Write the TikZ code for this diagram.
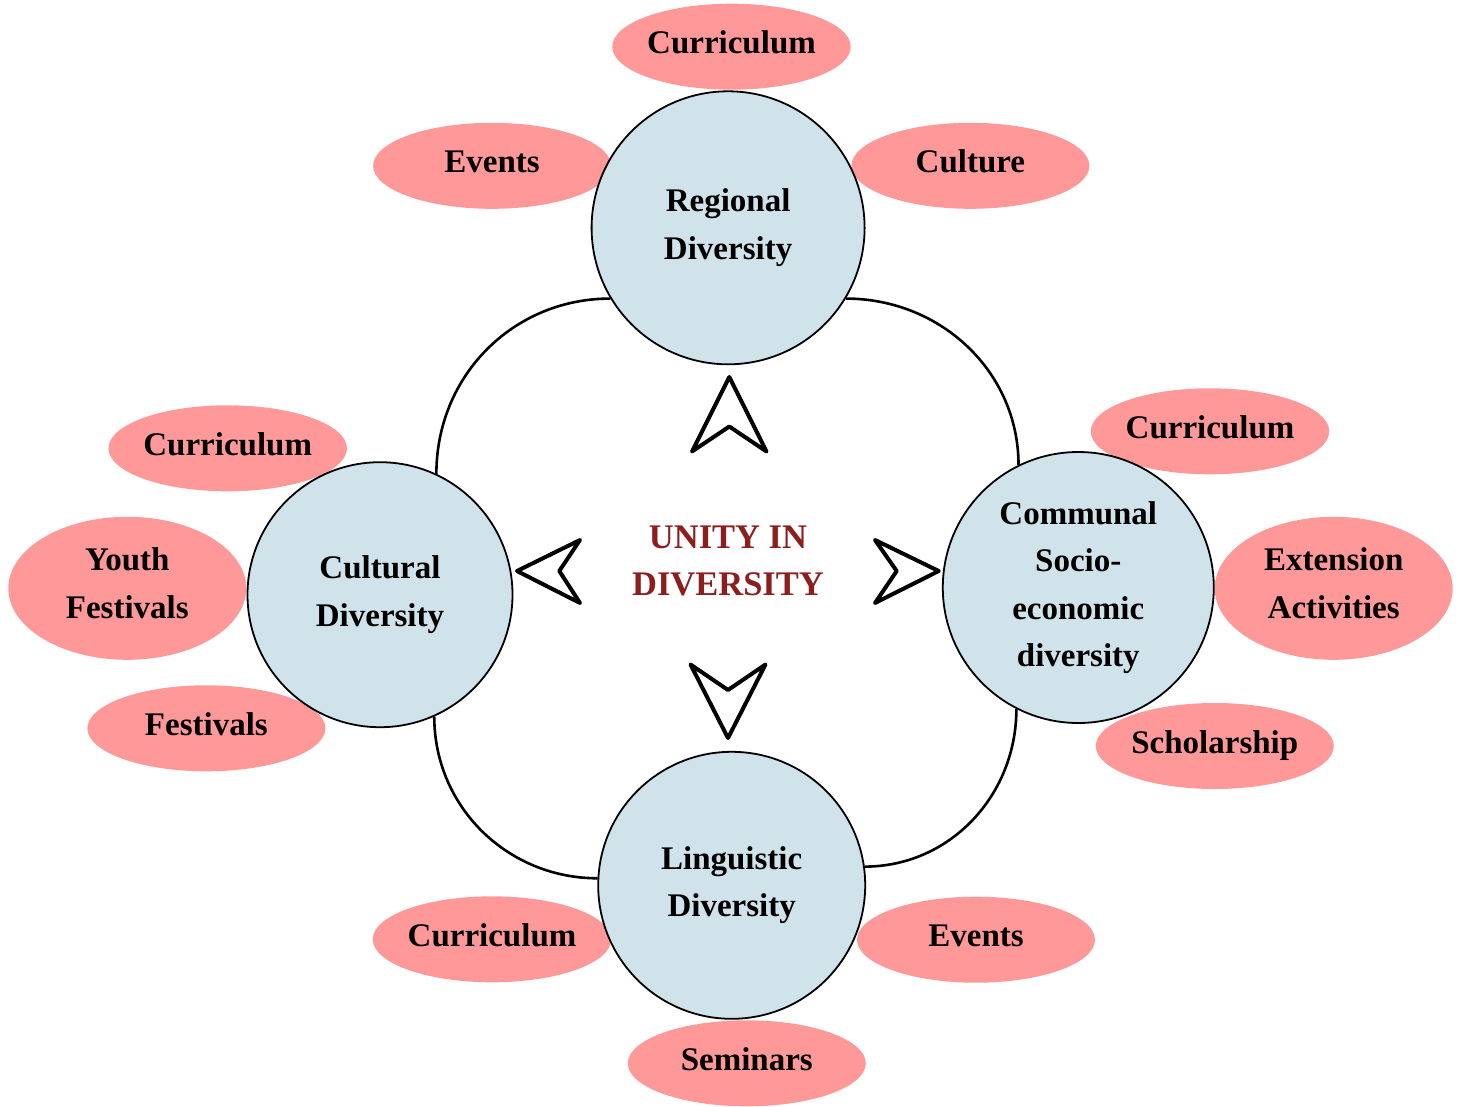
\documentclass[tikz,border=0pt]{standalone}
\usepackage{fontspec}
\setmainfont{Liberation Serif}
\usetikzlibrary{shapes.geometric}
\definecolor{pinkc}{RGB}{255,153,153}
\definecolor{bluec}{RGB}{208,227,234}
\definecolor{redc}{RGB}{140,30,30}
\tikzset{
  leaf/.style={ellipse, fill=pinkc, draw=none, minimum width=238pt, minimum height=86pt, inner sep=0pt, align=center, text height=22pt, text depth=8pt, font=\fontsize{33}{47.5}\selectfont\bfseries},
  leaftall/.style={leaf, minimum height=143pt, text height=62pt, text depth=2pt},
  hub/.style={circle, fill=bluec, draw=black, line width=1.8pt, inner sep=0pt, align=center, font=\fontsize{33}{47.5}\selectfont\bfseries},
  link/.style={draw=black, line width=2.6pt},
  pointer/.style={draw=black, line width=4pt, line join=round, fill=white}
}
\begin{document}
\begin{tikzpicture}[x=1pt,y=-1pt]
\useasboundingbox (0,0) rectangle (1467,1106);
% leaves
\node[leaf] (rc) at (731.5,46.7) {Curriculum};
\node[leaf] (re) at (492.1,165.8) {Events};
\node[leaf] (ru) at (970.4,165.8) {Culture};
\node[leaf] (cc) at (227.7,448.3) {Curriculum};
\node[leaftall] (cy) at (127.3,588.3) {Youth\\Festivals};
\node[leaf] (cf) at (206.4,728.3) {Festivals};
\node[leaf] (mc) at (1210,431.3) {Curriculum};
\node[leaftall] (me) at (1333.7,588.3) {Extension\\Activities};
\node[leaf] (ms) at (1214.8,746) {Scholarship};
\node[leaf] (lc) at (492,939.3) {Curriculum};
\node[leaf] (le) at (976,939.7) {Events};
\node[leaf] (ls) at (746.8,1063.3) {Seminars};
% hubs
\node[hub, minimum size=273pt] (reg) at (728.1,227.8) {Regional\\Diversity};
\node[hub, minimum size=265pt] (cul) at (380,594.7) {Cultural\\Diversity};
\node[hub, minimum size=271pt] (com) at (1078.3,587.5) {Communal\\Socio-\\economic\\diversity};
\node[hub, minimum size=267pt] (lin) at (731.7,885.3) {Linguistic\\Diversity};
% connecting arcs
\draw[link] (reg.211) .. controls +(-97.5,0) and +(0,-97.9) .. (cul.65);
\draw[link] (reg.329.5) .. controls +(94.6,0) and +(0,-93.4) .. (com.116.7);
\draw[link] (cul.294.7) .. controls +(0,90.5) and +(-89.9,0) .. (lin.177.3);
\draw[link] (com.243.1) .. controls +(0,86.7) and +(84.7,0) .. (lin.8.7);
% centre
\node[font=\fontsize{34.5}{47.7}\selectfont\bfseries, text=redc, align=center, inner sep=0pt] (unity) at (728,561) {UNITY IN\\DIVERSITY};
% pointers
\draw[pointer] (729.3,377) -- (766.5,451.5) -- (729.3,426.5) -- (692,451.5) -- cycle;
\draw[pointer] (517,571) -- (580,540) -- (559.3,571) -- (580,603) -- cycle;
\draw[pointer] (938.7,571) -- (875,540) -- (896.7,571) -- (875,603) -- cycle;
\draw[pointer] (728,738) -- (765.5,664.5) -- (728,690) -- (690.5,664.5) -- cycle;
\end{tikzpicture}
\end{document}
